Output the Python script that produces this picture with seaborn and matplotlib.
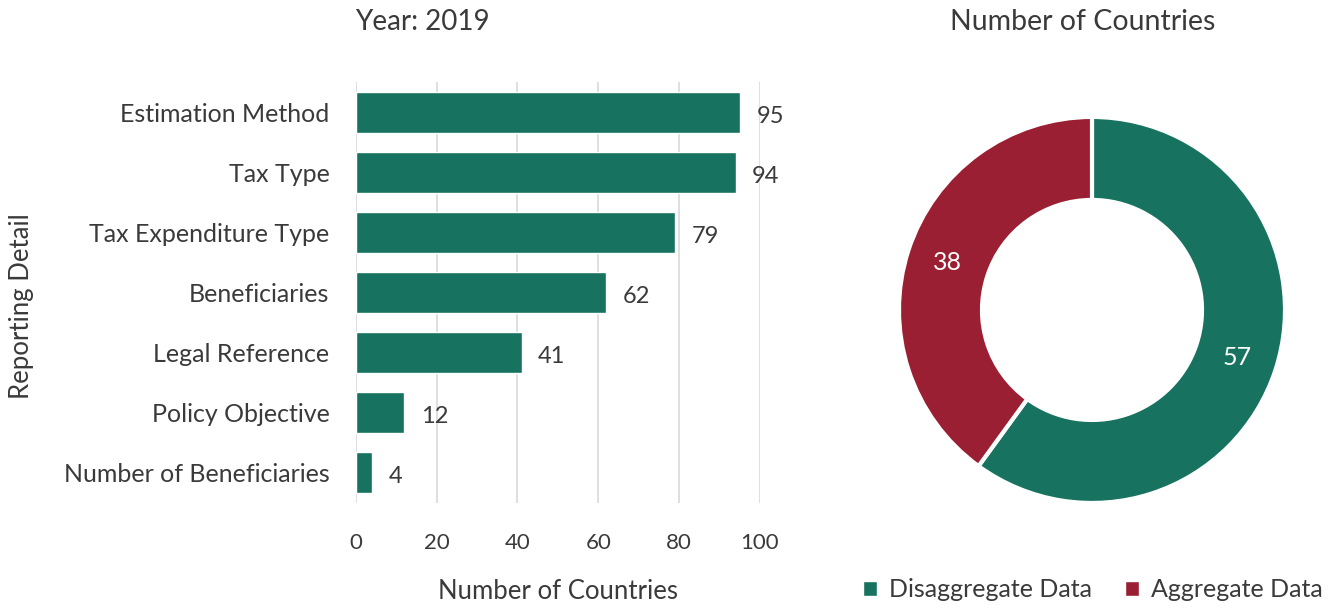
import matplotlib
matplotlib.use("Agg")
import matplotlib.pyplot as plt
import seaborn as sns
import numpy as np
from matplotlib.patches import Patch

# datos del grafico de barras
detalles = ["Estimation Method", "Tax Type", "Tax Expenditure Type", "Beneficiaries",
            "Legal Reference", "Policy Objective", "Number of Beneficiaries"]
paises = [95, 94, 79, 62, 41, 12, 4]

# datos del grafico de dona
tipos = ["Disaggregate Data", "Aggregate Data"]
conteo = [57, 38]

verde = "#17735f"
rojo = "#9b1f32"
gris_texto = "#3a3a3a"

sns.set_theme(style="white")
plt.rcParams['font.family'] = ['Lato', 'DejaVu Sans']

fig = plt.figure(figsize=(13.33, 6.08), dpi=100)

# barras horizontales
ax = fig.add_axes([0.267, 0.1735, 0.303, 0.691])
sns.barplot(x=paises, y=detalles, orient='h', color=verde, width=0.68,
            saturation=1, ax=ax, zorder=3)
ax.set_xlim(0, 100)
ax.set_ylim(6.5, -0.5)
ax.set_xticks([0, 20, 40, 60, 80, 100])
ax.grid(axis='x', color='#d9d9d9', linewidth=1.2, zorder=0)
ax.set_axisbelow(True)
sns.despine(ax=ax, left=True, bottom=True)
ax.tick_params(axis='y', length=0, labelsize=18, colors=gris_texto, pad=19)
ax.tick_params(axis='x', length=0, labelsize=16, colors=gris_texto, pad=22)
etiquetas = ax.bar_label(ax.containers[0], padding=12, fontsize=17, color=gris_texto)
for e in etiquetas:
    # un poco mas abajo, como en el original
    e.xyann = (e.xyann[0], e.xyann[1] - 3)
ax.set_xlabel("Number of Countries", fontsize=18.5, color=gris_texto, labelpad=19)
ax.set_ylabel("")
fig.text(0.016, 0.497, "Reporting Detail", rotation=90, ha='center', va='center',
         fontsize=18.5, color=gris_texto)
fig.text(0.266, 0.964, "Year: 2019", ha='left', va='center', fontsize=20,
         color=gris_texto)

# dona
ax2 = fig.add_axes([0.6744, 0.1727, 0.2896, 0.635])
ax2.pie(conteo, colors=[verde, rojo], startangle=90, counterclock=False,
        radius=1.0, wedgeprops=dict(width=0.43, edgecolor='white', linewidth=3))
ax2.set_xlim(-1, 1)
ax2.set_ylim(-1, 1)
ax2.set_aspect('equal')
ax2.axis('off')

# etiquetas de la dona
total = sum(conteo)
inicio = 0.0
for v in conteo:
    medio = inicio + v / total * 360 / 2
    ang = np.deg2rad(90 - medio)
    ax2.text(0.79 * np.cos(ang), 0.79 * np.sin(ang), str(v), ha='center',
             va='center', color='white', fontsize=18)
    inicio += v / total * 360

fig.text(0.8125, 0.964, "Number of Countries", ha='center', va='center',
         fontsize=20.5, color=gris_texto)

handles = [Patch(facecolor=verde), Patch(facecolor=rojo)]
leg = fig.legend(handles, tipos, loc='center', bbox_to_anchor=(0.82, 0.03), ncol=2,
                 frameon=False, fontsize=18, handlelength=0.55, handleheight=0.55,
                 handletextpad=0.5, columnspacing=1.3)
for t in leg.get_texts():
    t.set_color(gris_texto)

fig.savefig("out.png", dpi=100)
